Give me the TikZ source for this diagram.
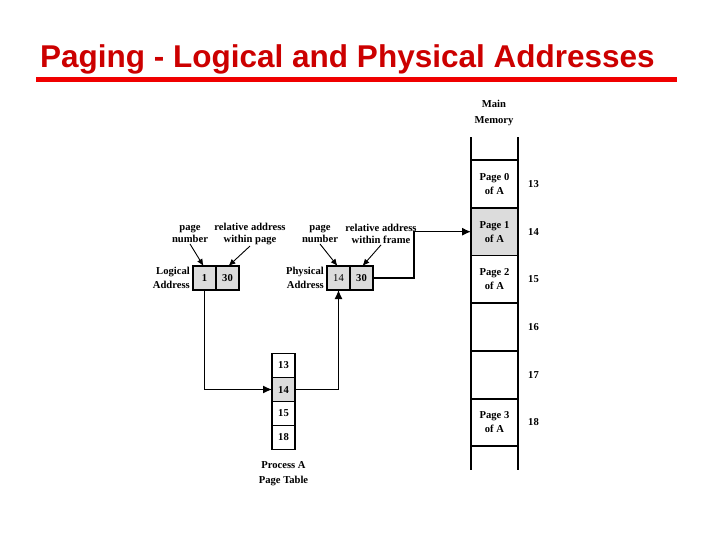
\documentclass[tikz,border=0pt]{standalone}
\usepackage{fontspec}
\setmainfont{Liberation Serif}
\newfontfamily\titlefont{Liberation Sans}
\usetikzlibrary{positioning,arrows.meta}

\definecolor{titlered}{RGB}{204,0,0}
\definecolor{rulered}{RGB}{240,0,0}
\definecolor{cellgray}{RGB}{220,220,220}

\begin{document}
\begin{tikzpicture}[x=1pt,y=-1pt,
  txt/.style={font=\fontsize{10.6}{12}\selectfont\bfseries,align=center,inner sep=1pt},
  tall/.style={font=\fontsize{10.6}{14.5}\selectfont\bfseries},
  cell/.style={draw,line width=1.8pt,outer sep=0pt,inner sep=0pt,
    minimum width=23pt,minimum height=24pt,font=\fontsize{10.6}{12}\selectfont\bfseries},
  frame/.style={draw,line width=1.8pt,outer sep=0pt,inner sep=0pt,
    minimum width=47pt,minimum height=47.7pt,align=center,
    font=\fontsize{10.6}{14}\selectfont\bfseries},
  conn/.style={line width=1.1pt,-{Latex[length=9pt,width=8pt]}},
  ptr/.style={line width=0.9pt,-{Latex[length=7pt,width=6pt]}}]
  \useasboundingbox (0,0) rectangle (720,540);
  % Title
  \node[anchor=base west,inner sep=0pt,text=titlered,
    font=\titlefont\bfseries\fontsize{31.5}{34}\selectfont] (title) at (40,68)
    {Paging - Logical and Physical Addresses};
  \fill[rulered] (36,77) rectangle (677,82);
  % Main memory
  \node[txt,font=\fontsize{10.6}{16}\selectfont\bfseries] (memlbl) at (494,113) {Main\\Memory};
  \foreach \fr/\txt/\col [count=\i from 0] in {13/{Page 0\\of A}/white,
      14/{Page 1\\of A}/cellgray, 15/{Page 2\\of A}/white, 16/{}/white,
      17/{}/white, 18/{Page 3\\of A}/white}{
    \node[frame,fill=\col] (mem\fr) at (494.5,184+47.7*\i) {\txt};
    \node[txt,right=9pt of mem\fr] (num\fr) {\fr};
  }
  \draw[line width=1.8pt] (mem13.north west) -- ++(0,-23);
  \draw[line width=1.8pt] (mem13.north east) -- ++(0,-23);
  \draw[line width=1.8pt] (mem18.south west) -- ++(0,24);
  \draw[line width=1.8pt] (mem18.south east) -- ++(0,24);
  % Logical address
  \node[cell,fill=cellgray] (logA) at (204.5,278) {1};
  \node[cell,fill=cellgray,right=0pt of logA] (logB) {30};
  \node[txt,tall,left=2pt of logA,align=right] (loglbl) {Logical\\Address};
  \node[txt] (pnL) at (190,234) {page\\number};
  \node[txt] (raL) at (250,234) {relative address\\within page};
  \draw[ptr] (pnL.south) -- ([xshift=-1pt]logA.north);
  \draw[ptr] (raL.south) -- ([xshift=1pt]logB.north);
  % Physical address
  \node[cell,fill=cellgray,font=\fontsize{10.6}{12}\selectfont] (physA) at (338.5,278) {14};
  \node[cell,fill=cellgray,right=0pt of physA] (physB) {30};
  \node[txt,tall,left=2pt of physA,align=right] (physlbl) {Physical\\Address};
  \node[txt] (pnP) at (320,234) {page\\number};
  \node[txt] (raP) at (381,234) {relative address\\within frame};
  \draw[ptr] (pnP.south) -- ([xshift=-1pt]physA.north);
  \draw[ptr] (raP.south) -- ([xshift=1pt]physB.north);
  % Page table
  \node[cell] (pt13) at (283.5,365.5) {13};
  \node[cell,fill=cellgray,below=0pt of pt13] (pt14) {14};
  \node[cell,below=0pt of pt14] (pt15) {15};
  \node[cell,below=0pt of pt15] (pt18) {18};
  \node[txt,tall,below=11pt of pt18] (ptlbl) {Process A\\Page Table};
  % Connectors
  \draw[conn] (logA.south) |- (pt14.west);
  \draw[conn] (pt14.east) -| (physA.south);
  \draw[conn] (physB.east) -- ++(41,0) |- (mem14.west);
\end{tikzpicture}
\end{document}
